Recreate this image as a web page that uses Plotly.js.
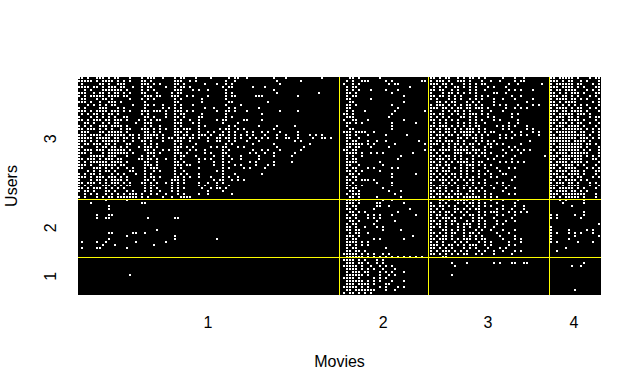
<!DOCTYPE html>
<html><head><meta charset="utf-8">
<script src="https://cdn.plot.ly/plotly-3.0.1.min.js"></script>
<style>html,body{margin:0;padding:0;background:#fff}</style>
</head><body><div id="chart" style="width:641px;height:391px"></div>
<script>
const blockWidths=[87,30,40,17];
const rowCount=73;
const movieTickLabels=['1','2','3','4'];
const movieTickCols=[42.7,101,135.9,164.5];
const userTickLabels=['3','2','1'];
const userTickRows=[21,50.8,67];
const movieSeparators=[86.5,116.11,156.37];
const userSeparators=[40.52,59.94];

const block1Top=[
"##.#..###.#.##...#...#.###..#...#.##...#....#.....#.##..#........#...#...........#.....",
"#####.#.####.#.#.#...##.#.......###..#.#.........#..#.............#.......#.............",
".#.....##.#..###.....###.#.#....##.#......#...#..#.#...............#...................#",
"####.##.#.###.##..#..#.##....#..#.##.#..........#.##......#...#.........................",
"..#.#...#######.#....#.#.#......###...#.#..#.....#...............#......................",
"###..#.##.#.##.#.#...##...#....#.##..............#.#..............#.............#.......",
"#.#.#####.####.##.....###.##...###..#.#....#.....#.##......###...........#..............",
".##...#.##.#.....#...#.#.#......#.#......#.......#.......................................",
"###.#..#..###.#.......#.........##.......#........##...........#.........................",
"...#.#.#.#.##.....#...##.#..#...#.#...#..........#....#....................................",
"#.#....###...#.#......#.....#.#.#.#.......#..#....#.#.......#..............................",
"###.#.####.###.#.#...###.###.#..###.#.#.......#..##.#...#..........#.....#.................",
".#.#.##.#.##.#.......#.#.....#..#.##.....#.......#...........#...........................",
"#...#.#.#.#.#..##.....##.#...#..##.#....##.......#.#.......................................",
"##.#.###.##.###.#...#.#.#.##....#.#..#..#.....#.##.....##....#.............................",
"..##.#..#.#.##.....#..###.......###...#.#.......#....#.....................................",
"#.#.#..###.####.#.....#.#..#....#.#.....#.#.......#.#.......#.....#.....#..................",
"##.###.#.#.#..#.##...###.#.#.#..##.###..#......#.##..#.#.........#.........................",
".###...##.#####.#.....##.#.#....###.#...#..#.#..#.#.#...#.#..#.#...#.....#.................",
"###.####.#######.##.#.#####.#...##.##.#.###.#..##.#.#.#.#.#...#...#..#...#...#.#.#.......#",
"#####.#####.##.##.#.#.###.#.#.##.###.##.#..#..##.##.#.#..#.#.#.#..#..##..#....#..##.#....",
"###.#.#.######.#..#..##.#...#...###..#.....#..##..#.#...#...#...........#.#...............",
"#.##.###.##.#...##....#.#.#.....#.#....#.........#.#......#......#...........#............",
"##....#.##.##.#.#...#.###.#.....###.#.#.....#.#.##...#.#..........#........#...............",
"#.###.###.######.#....##.#..#.#.##...#.#..#.....#.#.......#..#.#...#......#...............",
"###.#...#.#######.#....###.#....###.#.....#.#...##.......#.#..#..#......#.................",
"#...#####.###...#....#.#.#......#.##...#.....#..#.#...#.....#....#.....#...................",
"##.###.#.###.##.....##.##.#..#..#.#.....#.#.#...#..#..#.....#..............................",
"#.#.######.####.#.....##..#.....##.#....#....#..#.#......#.#.....#.....#...................",
"###.#..######.##......###.#.....###.##.......#..#...#.#....#...#.#.........................",
"##...###.#.#.#..#.#...#.###.....#.#.....#.......#.#....#.#....#............................",
"...#.#.#.##.#....##...#..#.#....#..#..........#.#..........................................",
"#.#.##.#...#.#.#...#..#.#.......#.#.#...#.......#...#........#.............................",
"###.#.###.###.#.#.....#.##.#....##.#.#..#...#...#.#..#.....................................",
"#...#.##.#.####.#.....##.#.....###.#.........#.##..#.#.#...................................",
"##.###.#.#.###.#.#...##.#.#..#.#.#.#....#..#..#.#..........................................",
"#.#.#...###.#.#.##....#.##.....#.#......#.#...#...#........................................",
"##.#.###.#.#.#.#......#.#.#....#.#.#.....#..#.##.#.........................................",
"#.##.#...##.#...#.#...#.#..#...#.#.........#....#..........................................",
"..#.#.#..#.#.#.#.###.#..#.#..#...#.#....#..#.......#.......................................",
"#.#...#.#.##.#######.#.#....#..#..####.....................................................",
];
const block1LowerRows=[41,41,42,42,42,43,44,46,46,46,47,47,47,47,47,47,51,52,52,52,52,52,53,53,54,54,54,55,55,55,55,55,56,56,56,57,57,57,57,66];
const block1LowerCols=[9,16,4,21,22,10,10,6,10,11,9,10,23,32,33,6,26,10,11,18,19,22,16,32,10,32,46,1,6,9,19,29,8,12,25,1,6,7,16,17];

const block2=[
"...##.#......#...............",
"..#.#..###.....#.#.........##",
".#..#.#.........#.##.........",
"..#.##.................#.....",
"..#.#.#...#....#...#.........",
"..##.#...........#...........",
"..#.##...............#.......",
"..##......#..................",
"...##................#.......",
"..##.#...........#...........",
"..##...............#.........",
"..#.#...#.........#.........#",
".##.#............#...........",
"..###...........#............",
".#..##...#...........#.......",
"..##.#.#.........#.......#...",
"..#..............#...........",
"...##............#...........",
".###.####..#.................",
"..##.#...#.....#......#......",
"..##..#......................",
"..#.##...#..#..#..........#..",
"..######.#.#......#.........#",
"..##.##...#.....#............",
".##.##......................#",
"..####.#..#.#.#.........#....",
"..#.#..#............#........",
"..#.##.............#.........",
"..####.......#...............",
"..##..#.......#..............",
"..#.##...#.#.....#.#.........",
"..##.#.#.....#...............",
"...##.#..........#.......#...",
"..#.##...........#...........",
"..##.#.###.#.................",
"..#.#.......#....#...........",
"..##.#.#.........#...........",
"..#.##........#..............",
"...##.#.........#...#........",
"..#.###...........#..........",
"...##.#.....#.......#........",
"..#####.......#..#..........",
"..###.#.....##.......#.......",
"..#.##......##..#............",
"..##.#.....#...........#.....",
"...##.#.#..........#.........",
"..#.##...#.#.#...#.......#...",
"..##.#...#.#.#.................",
"...##.#.....#.....#..........",
"..#.##.....#...................",
"..##.#..#...#.#...............",
"..##.##.......#.....#.........",
"...#.##..#....................",
"..###.#.................#.....",
"..#.##.....#.#.......#.......",
"..####.#.#....................",
"..##.#.#.#...................",
"..#.##.........#.............",
"..##.##.#....................",
".#####.#.#.#..#.#............",
"..######.#.#.#.#.#.#.#.#.#.#.",
".####.#.#...#.#...............",
"..###.##.#..#.#...............",
".#####.#..#..#.#.#...........",
"..####.#.#.#..#...#..........",
"..#.###.##...#.#.#...#.......",
"..######.#...#..#.#..........",
".####.#....#.#.#..............",
"..######.#.#.#...#...#.......",
"..###.####.#...##.............",
".#####.#.#...#.#...#.#........",
"..##.#######...#..#...........",
".#.##.#.#.#...................",
];

const block3Top=[
"##.#.##..#.#.##.#.#.....#...#..#.......",
"#.###.#..###.#...#..#..#....#.##.......",
"###.##.#...#.#.#.##.......#..#.......#.",
".#.#.#..##.#.#.#...#.#...#.............",
"##.##..#.#...#.#..#.......#.#.#...#....",
"#...#.##.#.#.#.#.....##..#.............",
"##.##.#.#.#....#.#.#.......#..#........",
"#.#...#.#.#..#.#.#...#..#...#.....#....",
"..##.#.##...#.#.#....#..........#......",
"#.###.#.#.#.##.#.#...#.#.#...#....#.#..",
"###.##.#.##.##.###.#.....#..#.#.#......",
"#...#.#.##.#.#...#..#...#..............",
"##.##..#.#.#.###.#.#.......#.#.........",
"#.#.#.#...##.#.#...#.#.....#...........",
"##.#.#.#.#...#.#.#...#.#.....#.........",
".#.#.#...#.#.#.#..#.......#..#.........",
"##.###.#.#.#.#.##.....#.#.#.#...#......",
"#.##.##.#.#.###.#.#.....#.#.....#.#....",
"##.#.##.#.#####.#.#.##.....#..#...#.#..",
"#.###.##.#.###.#.#.#...#.#..#.#.#...#..",
"##.#.#...##.#.##.#.....#.#.#...........",
"#.##.###.#.#...#.#.#.#...........#.....",
"###.#.#.##.#.##.#..##.#.#.....#........",
"#...#.#.#.#.#.#...#.#.....#.#..........",
"##.####.#####.###.#.....#..#.#.#.#.....",
"#.#.#...###.##.#.##.#....#....#........",
"##.#.##.#.#...#.#.#...#.#...#.........#",
"#.###.#.#.#.#.#....#.#.....#...........",
"##.#.#.#.####.#.##.....#.#.#.#.#.......",
"#.##.##...#.###.#.#.#..................",
"###.#.#.#.#.#.#...#...#...#.#..........",
"#.#.###...#.#.#.#..#...#...............",
"##.#.#.##.#.#...#.#.#...##.............",
"#.#.#.#.#.#.#.#.#...#.#.....#..........",
"##.###.#.#.#.##...#........#...........",
"#...#.#.#...#.#.#.#...#.#..............",
"##.###.#.#.##.#...#.#...#.#............",
"#.##.#...#.#.#.#.#...#...#..#..........",
"##.#.#.#.#...##.#.#.....#..............",
"#.###.#.###.#.#...#.#.....#.#..........",
"##.#.###.#.######.#.#.#................",
];
const block3Mid=[
"...##.#.#####.#.#...#...#....#.........",
"#..#.#...#.#.##.#.#...#.....#..........",
"##.##.#.#...#.#.#.#.#...#...#..#.......",
"#.#.#...##.#.#.##.....#.#..#...#.......",
"##.#.##.#.#.#...#.#.###...#.#.#.#......",
"#.##.#.#...#.##.#.#...#.#...#..........",
"#.#.###.#.#...#.##...#.....#...........",
"##.#.#.##...#.#.#.#...#..#..#..........",
"#.##.#.#.#.###..#.#...#.#..............",
"##.#.#...#.#.#..#.#..#.................",
"#...##.#.#.#...#.#..#...#...#..........",
"##.#.#.##..#.##.#.....#...#............",
"#.#.##.#...#.#.#.#.....#....#..........",
"##.###.#.#.###.#.##.....#...#.#........",
"#.#.#...#.#.#...#.#.#.....#...#........",
"###.#.##.#.#.###..#.#.....#.#..........",
"##.#.#.#...#.#.#...#...#.#.............",
"#.#.###.#.#.#...#.#..#..#...#.#........",
"##.#.#.#.#.##..#.#...#.....#...........",
];
const block3LowerRows=[60,60,62,63,62,62,62,62,62,62,62,66];
const block3LowerCols=[4,5,7,8,12,21,23,27,28,31,32,7];

const block4Top=[
"##.#####.#...#.##",
"###.#.##..#.#...#",
"#.######.##...#.#",
"###.####.#.#...##",
"#.##.####...#.#.#",
"##.#.#.###.#...##",
"###.##.#.#...#.#.",
"#.####.##.#.#...#",
"##.#.####.....#.#",
"###.#.#.#.#.#...#",
"#.####.#.##..#.#.",
"###.##.####.#...#",
"##.#####.###.#...",
"#.###.##.#...#.##",
"###.#.####.#...#.",
"##.###.#.##..#..#",
"#.###.####.#...#.",
"###.#######.#.#.#",
"#.#######.##..#.#",
"##.#########.#..#",
"#########.###.#.#",
"#######.####.#...",
"##.########.##.#.",
"#.#########.#...#",
"##.#######.#.#..#",
"#.####.######...#",
"###.#######.#.#.#",
"##.####.###...##.",
"#.####.####.#...#",
"###.####.#.#...#.",
"##.#.####...#.#.#",
"#.####.###.#...##",
"###.#.####.#...#.",
"#.####.#.##...#.#",
"##.#.####.#.#....",
"#.###.##.#...#.#.",
"###.#.####...#..#",
"##.#####.#.#...#.",
"#.####.##.#.#....",
"###.########...#.",
"##.#.#####.#...#.",
];
const block4Mid=[
"...#.#.....#.....",
"....#......#.....",
".......#.........",
".................",
"...........#.....",
"#.#.....#..#.....",
"#.#.......#......",
".................",
"................#",
"#................",
"#.....#.....#.#..",
"#.#...#.#.#...#..",
"#.......#.......#",
"#.....#..........",
"#.#......#....#..",
".................",
".....#...........",
"..#..............",
".................",
];
const block4LowerRows=[62,63,63,71];
const block4LowerCols=[11,7,10,8];

function blank(w){return Array(w).fill(0);}
function fromStrings(strs,w){return strs.map(s=>{const r=blank(w);for(let i=0;i<w&&i<s.length;i++)if(s[i]==='#')r[i]=1;return r;});}
function buildBlock(w,segments,rows,cols){
  let g=[];
  segments.forEach(s=>{g=g.concat(fromStrings(s,w));});
  while(g.length<rowCount)g.push(blank(w));
  g=g.slice(0,rowCount);
  (rows||[]).forEach((r,i)=>{g[r][cols[i]]=1;});
  return g;
}
const grids=[
  buildBlock(blockWidths[0],[block1Top],block1LowerRows,block1LowerCols),
  buildBlock(blockWidths[1],[block2]),
  buildBlock(blockWidths[2],[block3Top,block3Mid],block3LowerRows,block3LowerCols),
  buildBlock(blockWidths[3],[block4Top,block4Mid],block4LowerRows,block4LowerCols)
];
const z=[];
for(let r=0;r<rowCount;r++){z.push([].concat(grids[0][r],grids[1][r],grids[2][r],grids[3][r]));}
const total=blockWidths.reduce((a,b)=>a+b,0);
const font={family:'"Liberation Sans",Arial,sans-serif',size:16,color:'#000'};
const shapes=[];
movieSeparators.forEach(x=>shapes.push({type:'line',xref:'x',yref:'paper',x0:x,x1:x,y0:0,y1:1,line:{color:'#ffff00',width:1}}));
userSeparators.forEach(y=>shapes.push({type:'line',xref:'paper',yref:'y',x0:0,x1:1,y0:y,y1:y,line:{color:'#ffff00',width:1}}));
Plotly.newPlot('chart',[{type:'heatmap',z:z,zmin:0,zmax:1,showscale:false,xgap:1,ygap:1,
  colorscale:[[0,'#000000'],[1,'#ffffff']],hoverinfo:'skip'}],{
  width:641,height:391,paper_bgcolor:'#fff',plot_bgcolor:'#000',showlegend:false,font:font,
  margin:{l:78,r:40,t:77,b:96,pad:0},
  xaxis:{range:[-0.5,total-0.5],tickmode:'array',tickvals:movieTickCols,ticktext:movieTickLabels,ticks:'',showgrid:false,zeroline:false,showline:false,
    ticklabelstandoff:16,automargin:false,title:{text:'Movies',font:font,standoff:25}},
  yaxis:{range:[rowCount-0.5,-0.5],tickmode:'array',tickvals:userTickRows,ticktext:userTickLabels,tickangle:-90,ticks:'',showgrid:false,zeroline:false,showline:false,
    ticklabelstandoff:18,automargin:false,title:{text:'Users',font:font,standoff:20}},
  shapes:shapes
},{displayModeBar:false,staticPlot:true});
</script></body></html>
